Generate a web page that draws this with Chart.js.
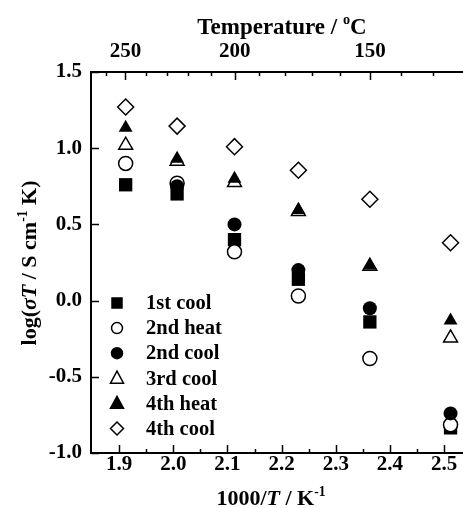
<!DOCTYPE html>
<html>
<head>
<meta charset="utf-8">
<script src="https://cdn.jsdelivr.net/npm/chart.js@4/dist/chart.umd.min.js"></script>
<style>
    body { margin: 0; background: #fff; }
    canvas { display: block; }
</style>
</head>
<body>
<canvas id="chart" width="463" height="508"></canvas>
<script>
// Data (x = 1000/T in K^-1, y = log(sigma T))
const xValues = [1.912, 2.007, 2.113, 2.231, 2.363, 2.512];
const firstCool = [0.76, 0.70, 0.40, 0.14, -0.14, -0.835];
const secondHeat = [0.90, 0.77, 0.32, 0.03, -0.38, -0.815];
const secondCool = [null, 0.75, 0.50, 0.20, -0.05, -0.74];
const thirdCool = [1.02, 0.915, 0.775, 0.585, 0.225, -0.245];
const fourthHeat = [1.135, 0.93, 0.80, 0.595, 0.23, -0.13];
const fourthCool = [1.27, 1.145, 1.01, 0.855, 0.665, 0.38];

const seriesLabels = ['1st cool', '2nd heat', '2nd cool', '3rd cool', '4th heat', '4th cool'];

// Axis ticks
const xMajorTicks = [1.9, 2.0, 2.1, 2.2, 2.3, 2.4, 2.5];
const xMinorTicks = [1.95, 2.05, 2.15, 2.25, 2.35, 2.45];
const tempMajorTicks = [250, 200, 150];
const tempMinorTicks = [260, 240, 230, 220, 210, 190, 180, 170, 160, 140, 130];

const FONT = '"Liberation Serif", "Times New Roman", serif';

// Helpers
function toInvT(celsius) {
    return 1000 / (celsius + 273.15);
}

function points(ys) {
    return xValues.map((x, i) => ({ x: x, y: ys[i] }));
}

function drawMarker(ctx, style, filled, r, x, y) {
    ctx.beginPath();
    if (style === 'rect') {
        ctx.rect(x - r, y - r, 2 * r, 2 * r);
    } else if (style === 'circle') {
        ctx.arc(x, y, r, 0, Math.PI * 2);
    } else if (style === 'triangle') {
        ctx.moveTo(x, y - r * 1.1);
        ctx.lineTo(x + r, y + r * 0.75);
        ctx.lineTo(x - r, y + r * 0.75);
        ctx.closePath();
    } else if (style === 'rectRot') {
        ctx.moveTo(x, y - r);
        ctx.lineTo(x + r, y);
        ctx.lineTo(x, y + r);
        ctx.lineTo(x - r, y);
        ctx.closePath();
    }
    ctx.fillStyle = filled ? '#000' : '#fff';
    ctx.fill();
    ctx.lineWidth = 1.5;
    ctx.strokeStyle = '#000';
    ctx.stroke();
}

// parts: [{ t: text, i: italic, s: superscript }]
function drawRich(ctx, parts, x, y, size) {
    const fontFor = p => (p.i ? 'italic ' : '') + 'bold ' + (p.s ? size * 0.62 : size) + 'px ' + FONT;
    let total = 0;
    parts.forEach(p => { ctx.font = fontFor(p); total += ctx.measureText(p.t).width; });
    let cx = x - total / 2;
    ctx.textAlign = 'left';
    ctx.textBaseline = 'alphabetic';
    ctx.fillStyle = '#000';
    parts.forEach(p => {
        ctx.font = fontFor(p);
        ctx.fillText(p.t, cx, p.s ? y - size * 0.42 : y);
        cx += ctx.measureText(p.t).width;
    });
}

const markerStyles = [
    { style: 'rect', filled: true, radius: 9.4, legend: 5 },
    { style: 'circle', filled: false, radius: 7, legend: 5.5 },
    { style: 'circle', filled: true, radius: 7, legend: 5.5 },
    { style: 'triangle', filled: false, radius: 8, legend: 6.5 },
    { style: 'triangle', filled: true, radius: 8, legend: 6.5 },
    { style: 'rectRot', filled: false, radius: 8, legend: 6.5 }
];

const seriesData = [firstCool, secondHeat, secondCool, thirdCool, fourthHeat, fourthCool];

const datasets = seriesData.map((ys, i) => {
    const m = markerStyles[i];
    return {
        label: seriesLabels[i],
        data: points(ys),
        pointStyle: m.style,
        pointRadius: m.radius,
        pointHoverRadius: m.radius,
        pointBackgroundColor: m.filled ? '#000' : '#fff',
        pointBorderColor: '#000',
        pointBorderWidth: m.filled ? 0 : 1.5,
        showLine: false,
        order: seriesData.length - i
    };
});

// Inward ticks on left, bottom and top axes
const inwardTicks = {
    id: 'inwardTicks',
    afterDraw(chart) {
        const { ctx, chartArea: a, scales } = chart;
        ctx.save();
        ctx.strokeStyle = '#000';
        ctx.lineWidth = 1.5;
        const line = (x1, y1, x2, y2) => {
            ctx.beginPath();
            ctx.moveTo(x1, y1);
            ctx.lineTo(x2, y2);
            ctx.stroke();
        };
        xMajorTicks.forEach(v => {
            const px = Math.round(scales.x.getPixelForValue(v)) + 0.5;
            line(px, a.bottom, px, a.bottom - 8);
        });
        xMinorTicks.forEach(v => {
            const px = Math.round(scales.x.getPixelForValue(v)) + 0.5;
            line(px, a.bottom, px, a.bottom - 4);
        });
        scales.y.ticks.forEach(t => {
            const py = Math.round(scales.y.getPixelForValue(t.value)) + 0.5;
            line(a.left, py, a.left + 8, py);
        });
        tempMajorTicks.forEach(t => {
            const px = Math.round(scales.x2.getPixelForValue(toInvT(t))) + 0.5;
            line(px, a.top, px, a.top + 8);
        });
        tempMinorTicks.forEach(t => {
            const px = Math.round(scales.x2.getPixelForValue(toInvT(t))) + 0.5;
            if (px < a.right) line(px, a.top, px, a.top + 4);
        });
        ctx.restore();
    }
};

// Axis titles and the in-plot legend
const titlesAndLegend = {
    id: 'titlesAndLegend',
    afterDraw(chart) {
        const ctx = chart.ctx;
        ctx.save();
        drawRich(ctx, [{ t: 'Temperature / ' }, { t: 'o', s: true }, { t: 'C' }], 282, 34, 23);
        drawRich(ctx, [{ t: '1000/' }, { t: 'T', i: true }, { t: ' / K' }, { t: '-1', s: true }], 271, 505, 22);

        ctx.save();
        ctx.translate(36, 263);
        ctx.rotate(-Math.PI / 2);
        drawRich(ctx, [{ t: 'log(' }, { t: '\u03c3T', i: true }, { t: ' / S cm' }, { t: '-1', s: true }, { t: ' K)' }], 0, 0, 22);
        ctx.restore();

        // legend
        chart.data.datasets.forEach((ds, i) => {
            const m = markerStyles[i];
            const y = 303 + i * 25.1;
            drawMarker(ctx, m.style, m.filled, m.legend, 117, y);
            ctx.font = 'bold 20.5px ' + FONT;
            ctx.fillStyle = '#000';
            ctx.textAlign = 'left';
            ctx.textBaseline = 'middle';
            ctx.fillText(ds.label, 146, y + 1);
        });
        ctx.restore();
    }
};

const tickFont = { family: FONT, size: 21, weight: 'bold', lineHeight: 1 };

new Chart(document.getElementById('chart'), {
    type: 'scatter',
    data: { datasets: datasets },
    options: {
        responsive: false,
        animation: false,
        // no auto padding, so the plot runs right up to the window's right edge
        layout: { padding: 0, autoPadding: false },
        plugins: {
            legend: { display: false },
            tooltip: { enabled: false },
            title: { display: false }
        },
        scales: {
            x: {
                type: 'linear',
                position: 'bottom',
                min: 1.848,
                max: 2.535,
                afterBuildTicks: s => { s.ticks = xMajorTicks.map(v => ({ value: v })); },
                afterFit: s => { s.height = 55; },
                grid: { drawOnChartArea: false, drawTicks: false },
                border: { display: true, color: '#000', width: 2 },
                ticks: {
                    color: '#000',
                    font: tickFont,
                    padding: 1,
                    maxRotation: 0,
                    callback: v => v.toFixed(1)
                }
            },
            x2: {
                type: 'linear',
                position: 'top',
                min: 1.848,
                max: 2.535,
                afterBuildTicks: s => { s.ticks = tempMajorTicks.map(t => ({ value: toInvT(t) })); },
                afterFit: s => { s.height = 72; },
                grid: { drawOnChartArea: false, drawTicks: false },
                border: { display: true, color: '#000', width: 2 },
                ticks: {
                    color: '#000',
                    font: tickFont,
                    padding: 10,
                    maxRotation: 0,
                    callback: (v, i) => String(tempMajorTicks[i])
                }
            },
            y: {
                type: 'linear',
                position: 'left',
                min: -1.0,
                max: 1.5,
                afterFit: s => { s.width = 91; },
                grid: { drawOnChartArea: false, drawTicks: false },
                border: { display: true, color: '#000', width: 2 },
                ticks: {
                    stepSize: 0.5,
                    color: '#000',
                    font: tickFont,
                    padding: 9,
                    callback: v => v.toFixed(1)
                }
            }
        }
    },
    plugins: [inwardTicks, titlesAndLegend]
});
</script>
</body>
</html>
